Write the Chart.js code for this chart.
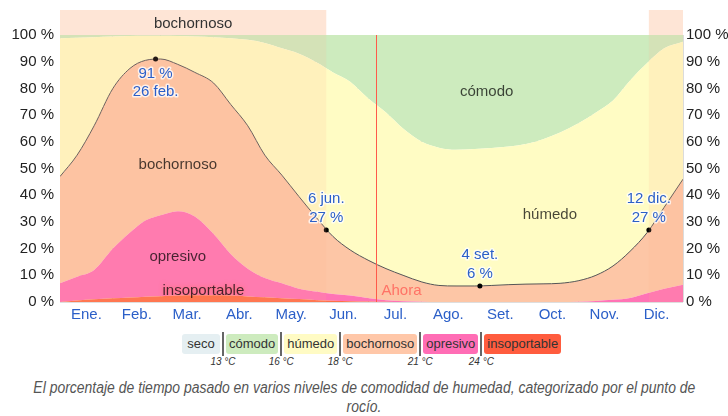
<!DOCTYPE html>
<html lang="es">
<head>
<meta charset="utf-8">
<title>Niveles de comodidad de humedad</title>
<script src="https://cdn.jsdelivr.net/npm/chart.js@4.4.1/dist/chart.umd.min.js"></script>
<style>
  body { margin: 0; background: #fff; font-family: "Liberation Sans", Arial, sans-serif; overflow: hidden; }
  #wrap { position: relative; width: 728px; height: 325px; }
  #legend { position: absolute; top: 332px; left: 182px; display: flex; align-items: center; }
  #legend .item { height: 20px; line-height: 20px; padding: 0 3px; border-radius: 3px; font-size: 13px; color: #333; text-align: center; }
  #legend .item.seco { min-width: 32px; }
  #legend .sep { position: relative; width: 2px; height: 24px; background: #666; margin: 0 2px; }
  #legend .sep span { position: absolute; top: 24px; left: 1px; transform: translateX(-50%); font-size: 10px; font-style: italic; color: #333; white-space: nowrap; }
  #caption { position: absolute; top: 378px; left: -136px; width: 1000px; margin: 0; text-align: center; font-family: "Liberation Sans", Arial, sans-serif; font-style: italic; font-size: 16px; line-height: 19px; color: #555; }
  #caption span { display: inline-block; white-space: nowrap; transform-origin: 50% 50%; }
</style>
</head>
<body>
<div id="wrap"><canvas id="humedad"></canvas></div>
<div id="legend"></div>
<p id="caption"><span>El porcentaje de tiempo pasado en varios niveles de comodidad de humedad, categorizado por el punto de</span><br><span>rocío.</span></p>
<script>
// day of year (0 = 1 ene.)
const days = [0, 10, 20, 31, 41, 50, 59, 69, 79, 90, 100, 110, 120, 130, 140, 151, 160, 170, 181,
  191, 201, 212, 222, 232, 243, 253, 263, 273, 283, 293, 304, 314, 324, 334, 344, 354, 365];

// share of time (%) in each comfort level, bottom to top
const insoportable = [0, 0.6, 1, 1.4, 1.7, 2, 2.2, 2.4, 2.5, 2.5, 2.4, 2.1, 1.8, 1.4, 1.1, 0.7, 0.5, 0.3, 0.2,
  0.1, 0, 0, 0, 0, 0, 0, 0, 0, 0, 0, 0, 0, 0, 0, 0, 0, 0];
const opresivo = [7, 8.9, 11, 18.6, 24.3, 28.5, 30.3, 31.6, 29.5, 23, 15.6, 10.4, 7.2, 5.6, 3.9, 3.1, 2.5, 2.1, 1.2,
  0.6, 0.3, 0.1, 0, 0, 0, 0, 0, 0, 0, 0, 0.1, 0.4, 0.8, 1.5, 3.3, 5, 6.5];
const bochornoso = [40, 45.5, 54, 60, 61.5, 60, 58.5, 55, 54, 56.5, 56, 53.5, 46, 40.5, 34.5, 27.2, 21.5, 17.1, 14.1,
  11.8, 9.7, 7.4, 6.2, 6, 6, 6.2, 6.5, 6.7, 6.8, 7, 7.9, 9.6, 12.7, 17.5, 22.7, 30.5, 39.5];
const humedo = [51.8, 44, 33.2, 19.4, 12.1, 9.2, 8.7, 10.6, 13.4, 17.2, 24.8, 32.2, 42, 47.5, 53.5, 58.5, 61.5, 63, 60.5,
  58.5, 55, 52.5, 51.6, 51, 51.3, 51.5, 51.7, 52.5, 54.2, 56.5, 59, 61, 62, 64, 63.5, 59.5, 51.5];
const comodo = [1.2, 1, 0.8, 0.6, 0.4, 0.3, 0.3, 0.4, 0.6, 0.8, 1.2, 1.8, 3, 5, 7, 10.5, 14, 17.5, 24,
  29, 35, 40, 42.2, 43, 42.7, 42.3, 41.8, 40.8, 39, 36.5, 33, 29, 24.5, 17, 10.5, 5, 2.5];

const months = ["Ene.", "Feb.", "Mar.", "Abr.", "May.", "Jun.", "Jul.", "Ago.", "Set.", "Oct.", "Nov.", "Dic."];
const monthStarts = [0, 31, 59, 90, 120, 151, 181, 212, 243, 273, 304, 334, 365];
const yTicks = [0, 10, 20, 30, 40, 50, 60, 70, 80, 90, 100];

// marked points on the muggy line
const marks = [
  { day: 56, value: 91, date: "26 feb.", below: true },
  { day: 156, value: 27, date: "6 jun.", below: false },
  { day: 246, value: 6, date: "4 set.", below: false },
  { day: 345, value: 27, date: "12 dic.", below: false },
];
const today = 185;

// dominant level strips along the top
const topBands = [
  { from: 0, to: 156, label: "bochornoso" },
  { from: 345, to: 365, label: "" },
];

const levels = [
  { name: "seco", color: "#e5eff2", temp: "13 °C" },
  { name: "cómodo", color: "#cdebbe", temp: "16 °C" },
  { name: "húmedo", color: "#fffbc4", temp: "18 °C" },
  { name: "bochornoso", color: "#ffc7a8", temp: "21 °C" },
  { name: "opresivo", color: "#ff6db5", temp: "24 °C" },
  { name: "insoportable", color: "#ff5c3e", temp: null },
];

const areaSeries = [
  { label: "insoportable", values: insoportable, color: "#ff6e48" },
  { label: "opresivo", values: opresivo, color: "#ff73b5" },
  { label: "bochornoso", values: bochornoso, color: "#fdc6a6" },
  { label: "húmedo", values: humedo, color: "#fffcc4" },
  { label: "cómodo", values: comodo, color: "#cdebbe" },
];

// text inside the areas, in data units
const areaLabels = [
  { text: "bochornoso", day: 69, y: 51.3 },
  { text: "opresivo", day: 69, y: 16.8 },
  { text: "insoportable", day: 84, y: 4.1, glow: "#ff6e48" },
  { text: "cómodo", day: 250, y: 78.6 },
  { text: "húmedo", day: 287, y: 32.5 },
];

const BLUE = "#2b5fc8";

const datasets = areaSeries.map((s, i) => ({
  label: s.label,
  data: days.map((d, j) => ({ x: d, y: s.values[j] })),
  backgroundColor: s.color,
  borderColor: s.label === "bochornoso" ? "#555" : "rgba(0,0,0,0)",
  borderWidth: s.label === "bochornoso" ? 1 : 0,
  fill: i === 0 ? "origin" : "-1",
  pointRadius: 0,
  cubicInterpolationMode: "monotone",
  stack: "niveles",
}));

// dots go on top of every area
datasets.push({
  label: "marcas",
  data: marks.map((m) => ({ x: m.day, y: m.value })),
  showLine: false,
  fill: false,
  order: -1,
  pointRadius: 2.5,
  pointBackgroundColor: "#000",
  pointBorderColor: "#000",
  pointBorderWidth: 0,
  stack: "marcas",
});

const overlay = {
  id: "overlay",
  afterDatasetsDraw(chart) {
    const { ctx, chartArea } = chart;
    const x = chart.scales.x;
    const y = chart.scales.y;
    ctx.save();
    topBands.forEach((b) => {
      const x0 = x.getPixelForValue(b.from);
      const x1 = x.getPixelForValue(b.to);
      ctx.fillStyle = "rgba(253,197,164,0.45)";
      ctx.fillRect(x0, chartArea.top - 25, x1 - x0, 25);
      ctx.fillStyle = "rgba(253,180,140,0.14)";
      ctx.fillRect(x0, chartArea.top, x1 - x0, chartArea.bottom - chartArea.top);
      if (b.label) {
        ctx.fillStyle = "#333";
        ctx.font = "15px 'Liberation Sans', Arial, sans-serif";
        ctx.textAlign = "center";
        ctx.textBaseline = "middle";
        ctx.fillText(b.label, (x0 + x1) / 2, chartArea.top - 11);
      }
    });

    // now line
    const xt = Math.round(x.getPixelForValue(today)) + 0.5;
    ctx.strokeStyle = "#ff5a4a";
    ctx.lineWidth = 1;
    ctx.beginPath();
    ctx.moveTo(xt, chartArea.top);
    ctx.lineTo(xt, chartArea.bottom);
    ctx.stroke();
    ctx.font = "15px 'Liberation Sans', Arial, sans-serif";
    ctx.textAlign = "left";
    ctx.textBaseline = "middle";
    ctx.fillStyle = "rgba(255,100,90,0.85)";
    ctx.fillText("Ahora", xt + 5, y.getPixelForValue(4.1));

    areaLabels.forEach((l) => {
      const px = x.getPixelForValue(l.day);
      const py = y.getPixelForValue(l.y);
      ctx.textAlign = "center";
      if (l.glow) {
        ctx.shadowColor = l.glow;
        ctx.shadowBlur = 4;
      }
      ctx.fillStyle = "rgba(0,0,0,0.72)";
      ctx.fillText(l.text, px, py);
      ctx.shadowBlur = 0;
      ctx.shadowColor = "transparent";
    });

    marks.forEach((m) => {
      const px = x.getPixelForValue(m.day);
      const py = y.getPixelForValue(m.value);
      const lines = m.below ? [m.value + " %", m.date] : [m.date, m.value + " %"];
      const ys = m.below ? [py + 15, py + 33] : [py - 31, py - 12];
      ctx.textAlign = "center";
      ctx.lineJoin = "round";
      lines.forEach((t, k) => {
        ctx.strokeStyle = "rgba(255,255,255,0.75)";
        ctx.lineWidth = 3;
        ctx.strokeText(t, px, ys[k]);
        ctx.fillStyle = BLUE;
        ctx.fillText(t, px, ys[k]);
      });
    });
    ctx.restore();
  },
};

Chart.defaults.font.family = "'Liberation Sans', Arial, sans-serif";
Chart.defaults.font.size = 15;

new Chart("humedad", {
  type: "line",
  data: { datasets },
  options: {
    responsive: true,
    maintainAspectRatio: false,
    animation: false,
    layout: { padding: { top: 35, left: 0, right: 0, bottom: 0 } },
    plugins: { legend: { display: false }, tooltip: { enabled: false } },
    scales: {
      x: {
        type: "linear",
        position: "bottom",
        min: 0,
        max: 365,
        grid: { display: false, drawTicks: false },
        border: { display: false },
        afterBuildTicks: (scale) => {
          scale.ticks = months.map((m, i) => ({ value: (monthStarts[i] + monthStarts[i + 1]) / 2 }));
        },
        afterFit: (scale) => { scale.height = 23; },
        ticks: {
          autoSkip: false,
          maxRotation: 0,
          padding: 4,
          color: BLUE,
          callback: (v, i) => months[i],
        },
      },
      xg: {
        type: "linear",
        position: "top",
        min: 0,
        max: 365,
        z: 1,
        grid: { color: "rgba(0,0,0,0.14)", drawTicks: false },
        border: { display: false },
        afterBuildTicks: (scale) => {
          scale.ticks = monthStarts.map((v) => ({ value: v }));
        },
        afterFit: (scale) => { scale.height = 0; },
        ticks: { display: false },
      },
      y: {
        position: "left",
        stacked: true,
        min: 0,
        max: 100,
        z: 1,
        grid: { color: "rgba(0,0,0,0.13)", drawTicks: false },
        border: { display: false },
        afterBuildTicks: (scale) => { scale.ticks = yTicks.map((v) => ({ value: v })); },
        afterFit: (scale) => { scale.width = 60; },
        ticks: { padding: 6, color: "#222", callback: (v) => v + " %" },
      },
      y2: {
        position: "right",
        min: 0,
        max: 100,
        grid: { display: false, drawTicks: false },
        border: { display: false },
        afterBuildTicks: (scale) => { scale.ticks = yTicks.map((v) => ({ value: v })); },
        afterFit: (scale) => { scale.width = 45; },
        ticks: { padding: 3, color: "#222", callback: (v) => v + " %" },
      },
    },
  },
  plugins: [overlay],
});

// legend of comfort levels with dew point limits
const legend = document.getElementById("legend");
levels.forEach((l) => {
  const item = document.createElement("div");
  item.className = "item" + (l.name === "seco" ? " seco" : "");
  item.style.background = l.color;
  item.textContent = l.name;
  legend.appendChild(item);
  if (l.temp) {
    const sep = document.createElement("div");
    sep.className = "sep";
    const t = document.createElement("span");
    t.textContent = l.temp;
    sep.appendChild(t);
    legend.appendChild(sep);
  }
});

// squeeze the caption into a narrow face
const captionLines = document.querySelectorAll("#caption span");
const squeeze = 662 / captionLines[0].getBoundingClientRect().width;
captionLines.forEach((s) => { s.style.transform = "scaleX(" + squeeze + ")"; });
</script>
</body>
</html>
